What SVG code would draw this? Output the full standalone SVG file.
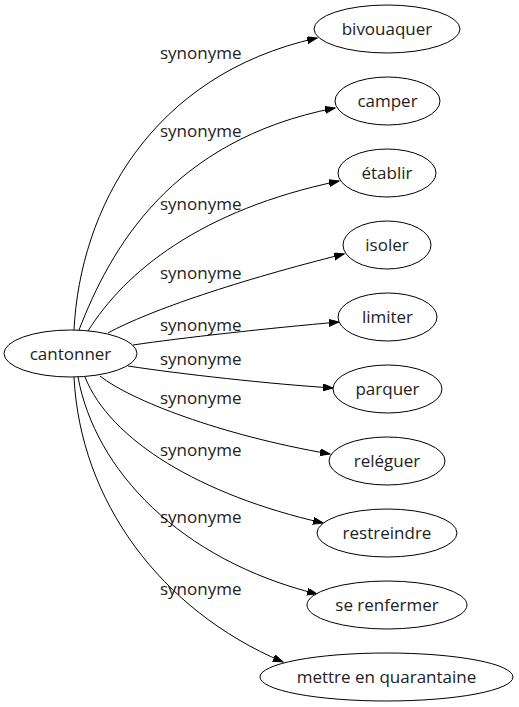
<svg xmlns="http://www.w3.org/2000/svg" width="519" height="707" viewBox="0 0 519 707">
<defs>
<marker id="arr" markerUnits="userSpaceOnUse" markerWidth="11" markerHeight="8" refX="10" refY="3.5" orient="auto">
<path d="M0,0 L10,3.5 L0,7 z" fill="#000" stroke="#000" stroke-width="1"/>
</marker>
<style>
.node ellipse{fill:#fff;stroke:#000;stroke-width:1}
text{font-family:"Open Sans","Liberation Sans",sans-serif;font-size:17px;fill:#222;text-anchor:middle}
.lbl{text-anchor:start}
.edges path{fill:none;stroke:#000;stroke-width:1;marker-end:url(#arr)}
</style>
</defs>
<rect width="519" height="707" fill="#fff"/>
<g id="edges" class="edges">
<path d="M74,330 C80,210 150,75 317,38"/>
<path d="M79,330 C110,250 170,140 335,108"/>
<path d="M88,331 C125,272 200,210 339,181"/>
<path d="M108,333 C150,310 240,280 344,254"/>
<path d="M133,345 C180,338 270,328 339,322"/>
<path d="M128,366 C180,374 270,384 333,388"/>
<path d="M100,376 C130,400 220,435 330,454"/>
<path d="M85,377 C110,440 200,495 323,523"/>
<path d="M78,377 C95,470 180,560 317,594"/>
<path d="M74,377 C80,500 160,610 283,662"/>
</g>
<g id="labels">
<text class="lbl" x="160" y="59">synonyme</text>
<text class="lbl" x="160" y="137">synonyme</text>
<text class="lbl" x="160" y="210">synonyme</text>
<text class="lbl" x="160" y="279">synonyme</text>
<text class="lbl" x="160" y="331">synonyme</text>
<text class="lbl" x="160" y="365">synonyme</text>
<text class="lbl" x="160" y="404">synonyme</text>
<text class="lbl" x="160" y="456">synonyme</text>
<text class="lbl" x="160" y="523">synonyme</text>
<text class="lbl" x="160" y="595">synonyme</text>
</g>
<g id="cantonner" class="node"><ellipse cx="70.5" cy="353.5" rx="66.5" ry="23.5"/><text x="70.5" y="359.5">cantonner</text></g>
<g id="bivouaquer" class="node"><ellipse cx="387" cy="29" rx="73" ry="24"/><text x="387" y="35">bivouaquer</text></g>
<g id="camper" class="node"><ellipse cx="387.5" cy="101" rx="52.5" ry="24"/><text x="387.5" y="107">camper</text></g>
<g id="etablir" class="node"><ellipse cx="387" cy="173" rx="49" ry="24"/><text x="387" y="179">établir</text></g>
<g id="isoler" class="node"><ellipse cx="387" cy="245" rx="44" ry="24"/><text x="387" y="251">isoler</text></g>
<g id="limiter" class="node"><ellipse cx="387.5" cy="317" rx="49.5" ry="24"/><text x="387.5" y="323">limiter</text></g>
<g id="parquer" class="node"><ellipse cx="387.5" cy="389" rx="54.5" ry="24"/><text x="387.5" y="395">parquer</text></g>
<g id="releguer" class="node"><ellipse cx="387" cy="461" rx="58" ry="24"/><text x="387" y="467">reléguer</text></g>
<g id="restreindre" class="node"><ellipse cx="387" cy="533" rx="70" ry="24"/><text x="387" y="539">restreindre</text></g>
<g id="se_renfermer" class="node"><ellipse cx="387" cy="605" rx="80" ry="24"/><text x="387" y="611">se renfermer</text></g>
<g id="mettre_en_quarantaine" class="node"><ellipse cx="386.5" cy="677" rx="126.5" ry="24"/><text x="386.5" y="683">mettre en quarantaine</text></g>
</svg>
